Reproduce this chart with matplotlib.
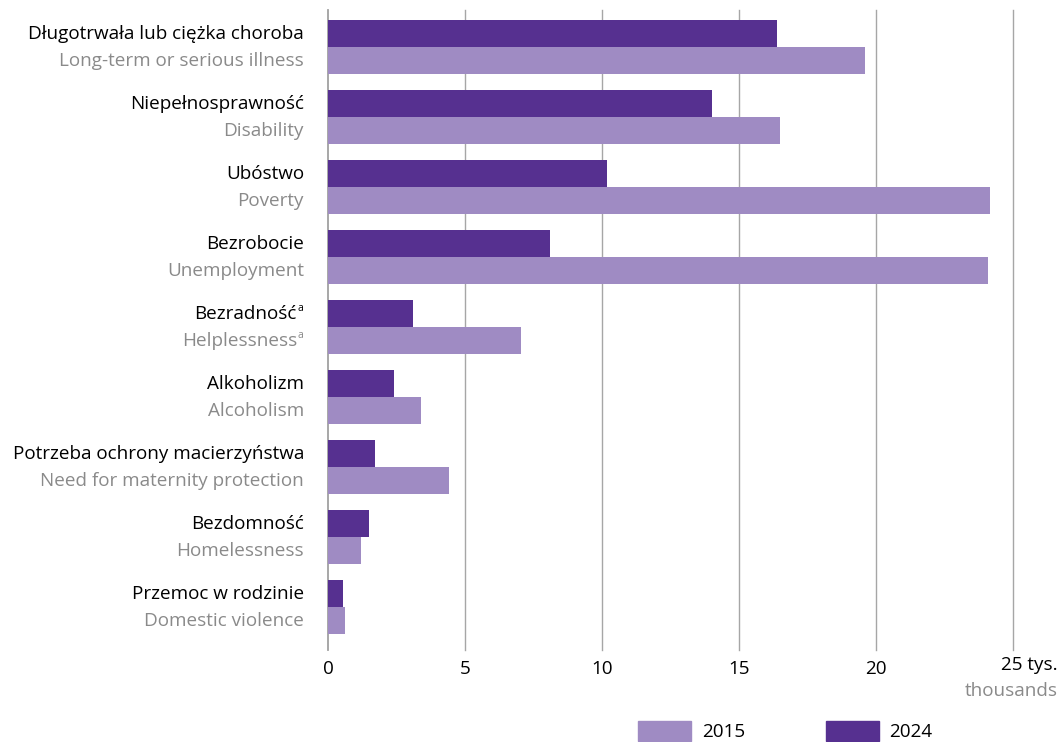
import matplotlib.pyplot as plt
from matplotlib.patches import Patch

plt.rcParams['font.family'] = ['Open Sans', 'DejaVu Sans']

labels_pl = ['Długotrwała lub ciężka choroba', 'Niepełnosprawność', 'Ubóstwo', 'Bezrobocie',
             'Bezradność', 'Alkoholizm', 'Potrzeba ochrony macierzyństwa', 'Bezdomność',
             'Przemoc w rodzinie']
labels_en = ['Long-term or serious illness', 'Disability', 'Poverty', 'Unemployment',
             'Helplessness', 'Alcoholism', 'Need for maternity protection', 'Homelessness',
             'Domestic violence']
footnote = [False, False, False, False, True, False, False, False, False]
v2024 = [16.4, 14.0, 10.2, 8.1, 3.1, 2.4, 1.7, 1.5, 0.55]
v2015 = [19.6, 16.5, 24.15, 24.1, 7.05, 3.4, 4.4, 1.2, 0.62]
ticks = [0, 5, 10, 15, 20, 25]

c2015 = '#9f8bc3'
c2024 = '#563090'
grey = '#8a8a8a'
fs = 13.6

W, H = 1061, 742
fig = plt.figure(figsize=(W / 100, H / 100), dpi=100)
ax = fig.add_axes([328 / W, 92 / H, 685 / W, 640 / H])

h = 0.386
y = list(range(len(labels_pl)))
ax.barh([i - h / 2 for i in y], v2024, height=h, color=c2024, zorder=3)
ax.barh([i + h / 2 for i in y], v2015, height=h, color=c2015, zorder=3)

ax.set_xlim(0, 25)
ax.set_ylim(8.614, -0.529)
ax.set_xticks(ticks)
ax.set_xticklabels([str(t) for t in ticks[:-1]] + [''], fontsize=fs)
ax.tick_params(axis='x', length=0, pad=7)
ax.set_yticks([])
for t in ticks[1:]:
    ax.axvline(t, color='#a6a6a6', lw=1, zorder=1, clip_on=False)
for s in ['top', 'right', 'bottom']:
    ax.spines[s].set_visible(False)
ax.spines['left'].set_color('#a0a0a0')
ax.spines['left'].set_linewidth(1.3)

tr = ax.get_yaxis_transform()
xl = -24 / 685
for i in y:
    if footnote[i]:
        ax.text(xl - 7 / 685, i - h / 2, labels_pl[i], transform=tr,
                ha='right', va='center', fontsize=fs, color='black')
        ax.text(xl - 7 / 685, i - h / 2 - 0.07, 'a', transform=tr,
                ha='left', va='center', fontsize=7.5, color='black')
        ax.text(xl - 7 / 685, i + h / 2, labels_en[i], transform=tr,
                ha='right', va='center', fontsize=fs, color=grey)
        ax.text(xl - 7 / 685, i + h / 2 - 0.07, 'a', transform=tr,
                ha='left', va='center', fontsize=7.5, color=grey)
    else:
        ax.text(xl, i - h / 2, labels_pl[i], transform=tr,
                ha='right', va='center', fontsize=fs, color='black')
        ax.text(xl, i + h / 2, labels_en[i], transform=tr,
                ha='right', va='center', fontsize=fs, color=grey)

fig.text(1058 / W, 1 - 665 / H, '25 tys.', ha='right', va='center', fontsize=fs)
fig.text(1058 / W, 1 - 691 / H, 'thousands', ha='right', va='center', fontsize=fs, color=grey)

handles = [Patch(color=c2015), Patch(color=c2024)]
fig.legend(handles, ['2015', '2024'], ncol=2, frameon=False, fontsize=fs,
           loc='lower left', bbox_to_anchor=(629 / W, -0.012), borderpad=0,
           handlelength=2.8, handleheight=1.25, handletextpad=0.55, columnspacing=4.3)

fig.savefig('out.png', dpi=100)
